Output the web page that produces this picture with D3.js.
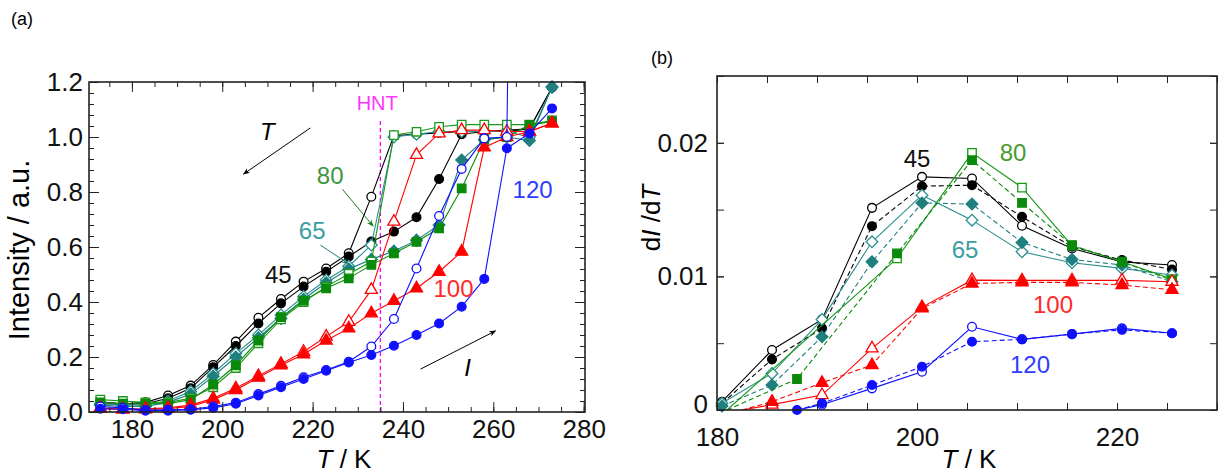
<!DOCTYPE html>
<html>
<head>
<meta charset="utf-8">
<script src="https://cdn.jsdelivr.net/npm/d3@7"></script>
<style>
  body { margin: 0; background: #fff; }
  svg { font-family: "Liberation Sans", Arial, sans-serif; }
</style>
</head>
<body>
<div class="canvas"></div>
<script>
// ---- data, panel (a): intensity vs T, cooling (open) and heating (filled)
const tempsA = [173,178,183,188,193,198,203,208,213,218,223,228,233,238,243,248,253,258,263,268,273];
const cool45  = [0.037,0.030,0.035,0.060,0.096,0.171,0.256,0.343,0.411,0.474,0.522,0.577,0.783,1.005,1.010,1.015,1.020,1.020,1.025,1.030,1.180];
const heat45  = [0.030,0.028,0.030,0.050,0.086,0.163,0.240,0.322,0.395,0.456,0.510,0.565,0.620,0.656,0.708,0.847,1.010,1.020,1.020,1.030,1.180];
const cool65  = [0.030,0.025,0.025,0.040,0.075,0.140,0.213,0.280,0.353,0.420,0.480,0.530,0.607,1.000,1.010,1.020,1.020,1.020,1.020,1.000,1.180];
const heat65  = [0.025,0.020,0.020,0.035,0.065,0.130,0.200,0.270,0.340,0.410,0.470,0.520,0.555,0.585,0.625,0.680,0.916,0.990,1.000,0.987,1.183];
const cool80  = [0.045,0.040,0.035,0.035,0.050,0.090,0.160,0.250,0.337,0.400,0.456,0.502,0.547,1.007,1.019,1.037,1.045,1.045,1.045,1.045,1.060];
const heat80  = [0.035,0.030,0.030,0.030,0.045,0.100,0.170,0.260,0.345,0.405,0.450,0.486,0.535,0.577,0.619,0.668,0.813,0.990,1.000,1.044,1.056];
const cool100 = [0.015,0.010,0.012,0.015,0.025,0.050,0.086,0.131,0.175,0.219,0.274,0.328,0.444,0.692,0.935,1.013,1.025,1.025,1.020,1.020,1.050];
const heat100 = [0.012,0.010,0.010,0.012,0.020,0.045,0.080,0.125,0.170,0.210,0.260,0.304,0.359,0.404,0.450,0.510,0.583,0.962,1.000,1.020,1.050];
const tempsCool120 = [173,178,183,188,193,198,203,208,213,218,223,228,233,238,243,248,253,258,263,263.4];
const cool120 = [0.020,0.015,0.007,0.008,0.010,0.020,0.034,0.065,0.095,0.126,0.153,0.183,0.238,0.338,0.522,0.713,0.884,0.995,1.000,1.500];
const heat120 = [0.012,0.010,0.005,0.005,0.008,0.015,0.030,0.060,0.090,0.120,0.150,0.180,0.207,0.241,0.280,0.322,0.383,0.484,0.959,1.013,1.104];

// ---- data, panel (b): dI/dT
const tempsB = [180.5,185.5,190.5,195.5,200.5,205.5,210.5,215.5,220.5,225.5];
const dCool45 = [0.00062,0.00449,0.00678,0.01513,0.01745,0.01733,0.01379,0.01209,0.01109,0.01085];
const dHeat45 = [0.00050,0.00379,0.00611,0.01376,0.01675,0.01683,0.01446,0.01222,0.01122,0.01052];
const dCool65 = [0.00050,0.00274,0.00678,0.01259,0.01608,0.01421,0.01184,0.01102,0.01060,0.01010];
const dHeat65 = [0.00030,0.00187,0.00548,0.01109,0.01550,0.01541,0.01254,0.01127,0.01085,0.00960];
const tempsB80 = [181,188,198,205.5,210.5,215.5,220.5,225.5];
const dCool80 = [0,null,0.01135,0.01925,0.01665,0.01230,0.01110,0.00980];
const dHeat80 = [0,0.00232,0.01172,0.01870,0.01550,0.01234,0.01109,0.00972];
const tempsB100 = [182.5,185.5,190.5,195.5,200.5,205.5,210.5,215.5,220.5,225.5];
const dCool100 = [0,0.00040,0.00112,0.00461,0.00770,0.00972,0.00970,0.00970,0.00970,0.00960];
const dHeat100 = [0,0.00062,0.00204,0.00337,0.00760,0.00947,0.00955,0.00955,0.00935,0.00900];
const tempsB120 = [188,190.5,195.5,200.5,205.5,210.5,215.5,220.5,225.5];
const dCool120 = [0,0.00040,0.00162,0.00287,0.00623,0.00529,0.00568,0.00611,0.00574];
const dHeat120 = [0,0.00050,0.00187,0.00324,0.00511,0.00529,0.00568,0.00600,0.00574];

// colours
const cBlack = '#000', cTeal = '#2b8f8f', cGreen = '#0a8a0a', cRed = '#ff0000', cBlue = '#1010ff';

const svg = d3.select('.canvas').append('svg')
    .attr('width', 1224).attr('height', 475);

const defs = svg.append('defs');
[['arrBlack', '#000'], ['arrGreen', '#1e7e1e'], ['arrTeal', '#1f8080']].forEach(([id, col]) => {
  defs.append('marker').attr('id', id)
      .attr('viewBox', '0 0 10 10').attr('refX', 9).attr('refY', 5)
      .attr('markerWidth', 7).attr('markerHeight', 7).attr('orient', 'auto')
    .append('path').attr('d', 'M0,1 L10,5 L0,9 L3,5 Z').attr('fill', col);
});

const symbols = {
  circle: d3.symbol(d3.symbolCircle, 60),
  square: d3.symbol(d3.symbolSquare, 72),
  triangle: d3.symbol(d3.symbolTriangle, 64),
  diamond: d3.symbol(d3.symbolSquare, 68)
};

function drawSeries(g, x, y, s, clipId) {
  const pts = s.t.map((t, i) => ({t, v: s.v[i]})).filter(d => d.v != null);
  g.append('path')
      .datum(pts)
      .attr('clip-path', `url(#${clipId})`)
      .attr('fill', 'none')
      .attr('stroke', s.color)
      .attr('stroke-width', 1.1)
      .attr('stroke-dasharray', s.dash || null)
      .attr('d', d3.line().x(d => x(d.t)).y(d => y(d.v)));
  const mk = pts.filter((d, i) => d.v <= y.domain()[1] && !(s.skipFirst && i === 0));
  g.selectAll(null).data(mk).enter().append('path')
      .attr('d', symbols[s.shape])
      .attr('transform', d => `translate(${x(d.t)},${y(d.v)})` + (s.shape === 'diamond' ? ' rotate(45)' : ''))
      .attr('fill', s.filled ? s.color : '#fff')
      .attr('stroke', s.color)
      .attr('stroke-width', 1.3);
}

function frame(g, x, y, xMaj, xMin, yMaj, yMin, fmtY, big, small, padX, padY) {
  const w = x.range()[1] - x.range()[0], h = y.range()[0] - y.range()[1];
  const addAxis = (axis, tr, labelled) => {
    const a = g.append('g').attr('transform', tr).call(axis);
    a.select('.domain').remove();
    a.selectAll('line').attr('stroke', '#222');
    a.selectAll('text').attr('font-size', 26).attr('fill', '#111');
    if (!labelled) a.selectAll('text').remove();
    return a;
  };
  // bottom
  addAxis(d3.axisBottom(x).tickValues(xMin).tickSize(-small).tickFormat(''), `translate(0,${y.range()[0]})`, false);
  addAxis(d3.axisBottom(x).tickValues(xMaj).tickSize(-big).tickPadding(padX).tickFormat(d3.format('d')), `translate(0,${y.range()[0]})`, true);
  // top
  addAxis(d3.axisTop(x).tickValues(xMin).tickSize(-small).tickFormat(''), `translate(0,${y.range()[1]})`, false);
  addAxis(d3.axisTop(x).tickValues(xMaj).tickSize(-big).tickFormat(''), `translate(0,${y.range()[1]})`, false);
  // left
  addAxis(d3.axisLeft(y).tickValues(yMin).tickSize(-small).tickFormat(''), `translate(${x.range()[0]},0)`, false);
  const yl = addAxis(d3.axisLeft(y).tickValues(yMaj).tickSize(-big).tickPadding(padY).tickFormat(fmtY), `translate(${x.range()[0]},0)`, true);
  // right
  addAxis(d3.axisRight(y).tickValues(yMin).tickSize(-small).tickFormat(''), `translate(${x.range()[1]},0)`, false);
  addAxis(d3.axisRight(y).tickValues(yMaj).tickSize(-big).tickFormat(''), `translate(${x.range()[1]},0)`, false);
  g.append('rect')
      .attr('x', x.range()[0]).attr('y', y.range()[1])
      .attr('width', w).attr('height', h)
      .attr('fill', 'none').attr('stroke', '#222').attr('stroke-width', 1.6);
  return yl;
}

// ================= panel (a)
const xA = d3.scaleLinear().domain([170.5, 280.3]).range([89, 585]);
const yA = d3.scaleLinear().domain([0, 1.2]).range([412, 82]);
const gA = svg.append('g');

defs.append('clipPath').attr('id', 'clipA').append('rect')
    .attr('x', 89).attr('y', 82).attr('width', 496).attr('height', 330);

// HNT line
gA.append('line')
    .attr('x1', xA(235)).attr('x2', xA(235))
    .attr('y1', yA(0)).attr('y2', yA(1.06))
    .attr('stroke', '#ff00ff').attr('stroke-width', 1.3).attr('stroke-dasharray', '4,3');

const seriesA = [
  {t: tempsA, v: cool45, color: cBlack, shape: 'circle', filled: false},
  {t: tempsA, v: heat45, color: cBlack, shape: 'circle', filled: true},
  {t: tempsA, v: cool65, color: cTeal, shape: 'diamond', filled: false},
  {t: tempsA, v: heat65, color: '#1f7f7f', shape: 'diamond', filled: true},
  {t: tempsA, v: cool80, color: '#1a9a1a', shape: 'square', filled: false},
  {t: tempsA, v: heat80, color: cGreen, shape: 'square', filled: true},
  {t: tempsA, v: cool100, color: cRed, shape: 'triangle', filled: false},
  {t: tempsA, v: heat100, color: cRed, shape: 'triangle', filled: true},
  {t: tempsCool120, v: cool120, color: cBlue, shape: 'circle', filled: false},
  {t: tempsA, v: heat120, color: cBlue, shape: 'circle', filled: true}
];
seriesA.forEach(s => drawSeries(gA, xA, yA, s, 'clipA'));

frame(gA, xA, yA,
  d3.range(180, 281, 20), d3.range(175, 281, 5),
  d3.range(0, 7).map(i => i * 0.2), d3.range(0, 31).map(i => i * 0.04),
  d3.format('.1f'), 10, 5, 8, 6);

// annotations (a), in data units
const labelsA = [
  {t: 212.4, v: 0.50, text: '45', color: '#111'},
  {t: 219.9, v: 0.66, text: '65', color: '#3a9ea2'},
  {t: 223.9, v: 0.86, text: '80', color: '#3c963c'},
  {t: 251.2, v: 0.45, text: '100', color: '#ff2a2a'},
  {t: 268.7, v: 0.81, text: '120', color: '#2f3cff'},
  {t: 234.3, v: 1.125, text: 'HNT', color: '#ff33ff', size: 20}
];
gA.selectAll(null).data(labelsA).enter().append('text')
    .attr('x', d => xA(d.t)).attr('y', d => yA(d.v))
    .attr('dy', '0.35em').attr('text-anchor', 'middle')
    .attr('font-size', d => d.size || 24).attr('fill', d => d.color)
    .text(d => d.text);

const arrowsA = [
  {from: [219.5, 1.033], to: [204.7, 0.865], m: 'arrBlack', c: '#000'},
  {from: [243.9, 0.156], to: [260.5, 0.295], m: 'arrBlack', c: '#000'},
  {from: [226.6, 0.81], to: [233.4, 0.676], m: 'arrGreen', c: '#1e7e1e'},
  {from: [221.7, 0.607], to: [227.9, 0.54], m: 'arrTeal', c: '#1f8080'}
];
gA.selectAll(null).data(arrowsA).enter().append('line')
    .attr('x1', d => xA(d.from[0])).attr('y1', d => yA(d.from[1]))
    .attr('x2', d => xA(d.to[0])).attr('y2', d => yA(d.to[1]))
    .attr('stroke', d => d.c).attr('stroke-width', 1)
    .attr('marker-end', d => `url(#${d.m})`);

gA.append('text').attr('x', xA(210)).attr('y', yA(1.018)).attr('dy', '0.35em')
    .attr('text-anchor', 'middle').attr('font-size', 24).attr('font-style', 'italic').text('T');
gA.append('text').attr('x', xA(254.3)).attr('y', yA(0.16)).attr('dy', '0.35em')
    .attr('text-anchor', 'middle').attr('font-size', 24).attr('font-style', 'italic').text('I');

// titles (a)
svg.append('text').attr('x', 22).attr('y', 25).attr('font-size', 18).attr('text-anchor', 'middle').text('(a)');
const tA = svg.append('text').attr('x', 344).attr('y', 468).attr('font-size', 26).attr('text-anchor', 'middle');
tA.append('tspan').attr('font-style', 'italic').text('T');
tA.append('tspan').text(' / K');
svg.append('text').attr('transform', 'translate(29,250) rotate(-90)')
    .attr('font-size', 29).attr('text-anchor', 'middle').text('Intensity / a.u.');

// ================= panel (b)
const xB = d3.scaleLinear().domain([180, 230]).range([717, 1217]);
const yB = d3.scaleLinear().domain([0, 0.025]).range([410, 76]);
const gB = svg.append('g');

defs.append('clipPath').attr('id', 'clipB').append('rect')
    .attr('x', 717).attr('y', 76).attr('width', 500).attr('height', 334);

const seriesB = [
  {t: tempsB, v: dCool45, color: cBlack, shape: 'circle', filled: false},
  {t: tempsB, v: dHeat45, color: cBlack, shape: 'circle', filled: true, dash: '5,3'},
  {t: tempsB, v: dCool65, color: cTeal, shape: 'diamond', filled: false},
  {t: tempsB, v: dHeat65, color: '#1f7f7f', shape: 'diamond', filled: true, dash: '5,3'},
  {t: tempsB80, v: dCool80, color: '#1a9a1a', shape: 'square', filled: false, skipFirst: true},
  {t: tempsB80, v: dHeat80, color: cGreen, shape: 'square', filled: true, dash: '5,3', skipFirst: true},
  {t: tempsB100, v: dCool100, color: cRed, shape: 'triangle', filled: false, skipFirst: true},
  {t: tempsB100, v: dHeat100, color: cRed, shape: 'triangle', filled: true, dash: '5,3', skipFirst: true},
  {t: tempsB120, v: dCool120, color: cBlue, shape: 'circle', filled: false, skipFirst: true},
  {t: tempsB120, v: dHeat120, color: cBlue, shape: 'circle', filled: true, dash: '5,3'}
];
seriesB.forEach(s => drawSeries(gB, xB, yB, s, 'clipB'));

const ylB = frame(gB, xB, yB,
  [180, 200, 220], d3.range(180, 231, 5),
  [0, 0.01, 0.02], d3.range(0, 6).map(i => i * 0.005),
  d => d === 0 ? '0' : d3.format('.2f')(d), 7, 7, 18, 9);
// lift the "0" a little off the "180" below it
ylB.selectAll('text').filter(d => d === 0).attr('dy', '0.1em');

const labelsB = [
  {t: 200.0, v: 0.0188, text: '45', color: '#111'},
  {t: 204.8, v: 0.0120, text: '65', color: '#3a9ea2'},
  {t: 209.6, v: 0.0193, text: '80', color: '#4a9a30'},
  {t: 213.6, v: 0.0079, text: '100', color: '#ff2a2a'},
  {t: 211.3, v: 0.0034, text: '120', color: '#2f3cff'}
];
gB.selectAll(null).data(labelsB).enter().append('text')
    .attr('x', d => xB(d.t)).attr('y', d => yB(d.v))
    .attr('dy', '0.35em').attr('text-anchor', 'middle')
    .attr('font-size', 24).attr('fill', d => d.color)
    .text(d => d.text);

// titles (b)
svg.append('text').attr('x', 662).attr('y', 64).attr('font-size', 18).attr('text-anchor', 'middle').text('(b)');
const tB = svg.append('text').attr('x', 969).attr('y', 468).attr('font-size', 26).attr('text-anchor', 'middle');
tB.append('tspan').attr('font-style', 'italic').text('T');
tB.append('tspan').text(' / K');
const yt = svg.append('text').attr('transform', 'translate(660,218) rotate(-90)')
    .attr('font-size', 26).attr('text-anchor', 'middle');
yt.append('tspan').text('d');
yt.append('tspan').attr('font-style', 'italic').text('I');
yt.append('tspan').text(' /d');
yt.append('tspan').attr('font-style', 'italic').text('T');
</script>
</body>
</html>
